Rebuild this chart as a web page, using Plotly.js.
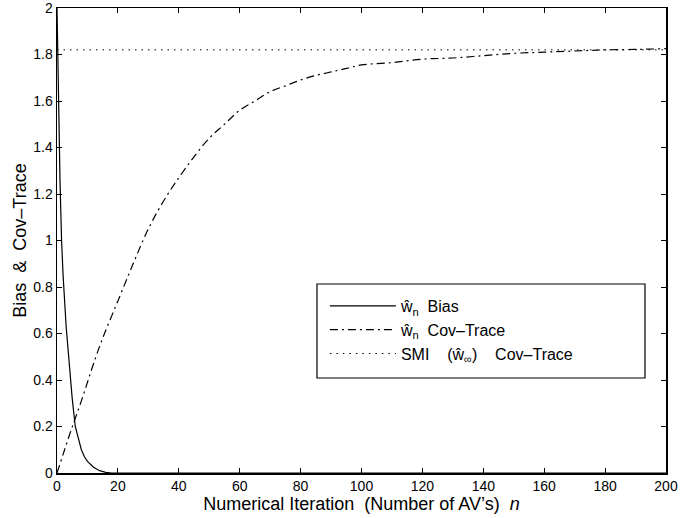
<!DOCTYPE html>
<html>
<head>
<meta charset="utf-8">
<script src="https://cdn.plot.ly/plotly-3.0.1.min.js"></script>
<style>html,body{margin:0;padding:0;background:#fff;}#chart{width:697px;height:518px;}</style>
</head>
<body>
<div id="chart"></div>
<script>
// Bias of w_n estimate
const biasN   = [0, 0.5, 1, 1.5, 2, 3, 4, 5, 6, 7, 8, 9, 10, 12, 14, 16, 18, 200];
const biasVal = [2.0, 1.6, 1.25, 1.0, 0.85, 0.63, 0.46, 0.32, 0.2, 0.145, 0.1, 0.07, 0.05, 0.025, 0.01, 0.003, 0, 0];

// Covariance trace of w_n estimate
const covN   = [0, 2, 4, 6, 8, 10, 12, 15, 20, 25, 30, 35, 40, 45, 50, 55, 60, 65, 70, 75, 80, 85, 90, 95, 100, 110, 120, 130, 140, 150, 160, 170, 180, 190, 200];
const covVal = [0, 0.08, 0.16, 0.235, 0.31, 0.39, 0.47, 0.58, 0.74, 0.90, 1.05, 1.17, 1.27, 1.36, 1.44, 1.50, 1.56, 1.60, 1.64, 1.665, 1.69, 1.71, 1.725, 1.74, 1.755, 1.765, 1.78, 1.785, 1.795, 1.805, 1.81, 1.815, 1.82, 1.822, 1.825];

// SMI (w_inf) covariance trace (constant)
const smiN   = [0, 200];
const smiVal = [1.82, 1.82];

const NB = '\u00a0';
const legendNames = [
  'ŵ<sub>n</sub>' + NB + NB + 'Bias',
  'ŵ<sub>n</sub>' + NB + NB + 'Cov–Trace',
  'SMI' + NB.repeat(4) + '(ŵ<sub>∞</sub>)' + NB.repeat(4) + 'Cov–Trace'
];

const traces = [
  {x: biasN, y: biasVal, name: legendNames[0], mode: 'lines', line: {color: '#000', width: 1.2, dash: 'solid'}},
  {x: covN, y: covVal, name: legendNames[1], mode: 'lines', line: {color: '#000', width: 1.2, dash: '8px,4px,2px,4px', shape: 'spline'}},
  {x: smiN, y: smiVal, name: legendNames[2], mode: 'lines', line: {color: '#000', width: 1, dash: '1.5px,5px'}}
];

const font = 'Liberation Sans, Arial, Helvetica, sans-serif';
const layout = {
  width: 697, height: 518,
  margin: {l: 57, r: 31, t: 8, b: 45},
  paper_bgcolor: '#fff', plot_bgcolor: '#fff',
  font: {family: font, color: '#000', size: 14},
  showlegend: true,
  legend: {
    x: 0.4399, y: 0.3075, xanchor: 'left', yanchor: 'middle',
    borderwidth: 0, bgcolor: 'rgba(0,0,0,0)',
    font: {family: font, size: 16, color: '#000'},
    itemwidth: 66,
    tracegroupgap: 0
  },
  shapes: [
    {type: 'rect', xref: 'paper', yref: 'paper', x0: 0.4269, x1: 0.9655, y0: 0.2043, y1: 0.4065,
     line: {color: '#000', width: 1.2}, fillcolor: '#fff', layer: 'below'}
  ],
  xaxis: {
    range: [0, 200], dtick: 20, tick0: 0,
    showgrid: false, zeroline: false,
    showline: true, linecolor: '#000', linewidth: 1.5, mirror: 'ticks',
    ticks: 'inside', ticklen: 5, tickcolor: '#000',
    tickfont: {size: 14},
    ticklabeloverflow: 'allow',
    title: {text: 'Numerical Iteration' + NB + NB + '(Number of AV\u2019s)' + NB + NB + '<i>n</i>', font: {size: 18}, standoff: 0},
    automargin: false
  },
  yaxis: {
    range: [0, 2], dtick: 0.2, tick0: 0,
    showgrid: false, zeroline: false,
    showline: true, linecolor: '#000', linewidth: 1.5, mirror: 'ticks',
    ticks: 'inside', ticklen: 5, tickcolor: '#000',
    tickfont: {size: 14},
    ticklabeloverflow: 'allow',
    title: {text: 'Bias' + NB + NB + '&' + NB + NB + 'Cov–Trace', font: {size: 18}, standoff: 2},
    automargin: false
  }
};

Plotly.newPlot('chart', traces, layout, {displayModeBar: false, staticPlot: true});
</script>
</body>
</html>
